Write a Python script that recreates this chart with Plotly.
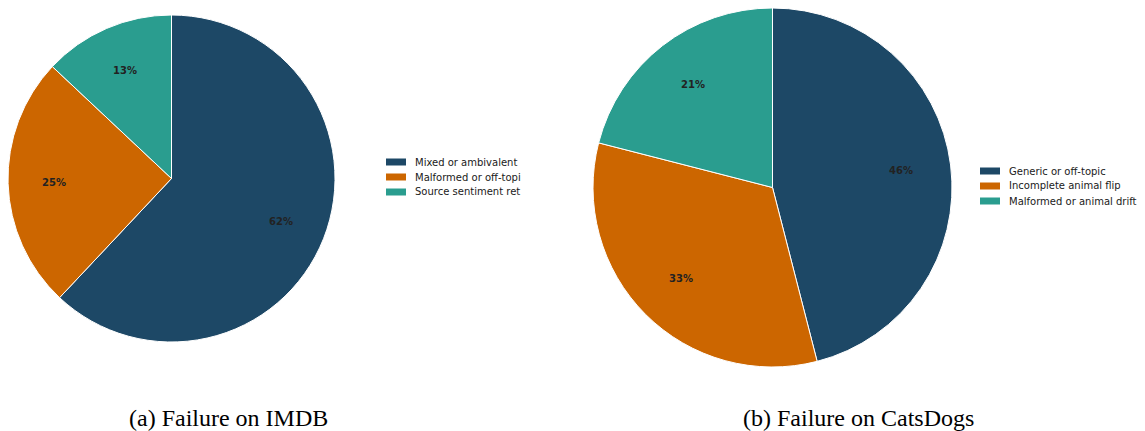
import math
import plotly.graph_objects as go

# the page body has an 8px margin, so the figure is placed at (8, 8)
OFF = 8
W, H = 1145 - OFF, 431 - OFF

imdb_labels = ["Mixed or ambivalent", "Malformed or off-topi", "Source sentiment ret"]
imdb_values = [62, 25, 13]
cats_labels = ["Generic or off-topic", "Incomplete animal flip", "Malformed or animal drift"]
cats_values = [46, 33, 21]
colors = ["#1d4866", "#cc6600", "#2a9d8f"]
captions = ["(a) Failure on IMDB", "(b) Failure on CatsDogs"]

# layout (screen pixel) geometry of each panel: pie centre, radius, legend origin, caption centre
panels = [
    dict(labels=imdb_labels, values=imdb_values, cx=171.5, cy=178.5, r=163.5,
         lx=386, ly=162, capx=228),
    dict(labels=cats_labels, values=cats_values, cx=772.5, cy=187, r=180,
         lx=980, ly=171, capx=858),
]

fig = go.Figure()
shapes = []
annotations = []

def px(x):
    return min(1.0, max(0.0, (x - OFF) / W))

def py(y):
    return min(1.0, max(0.0, 1 - (y - OFF) / H))

for i, p in enumerate(panels):
    cx, cy, r = p["cx"], p["cy"], p["r"]
    fig.add_trace(go.Pie(
        labels=p["labels"], values=p["values"],
        sort=False, direction="clockwise", rotation=0,
        marker=dict(colors=colors, line=dict(color="white", width=1)),
        textinfo="none", hoverinfo="label+percent", showlegend=False,
        domain=dict(x=[px(cx - r), px(cx + r)], y=[py(cy + r), py(cy - r)]),
    ))
    total = sum(p["values"])
    cum = 0.0
    for lab, v in zip(p["labels"], p["values"]):
        mid = 90 - 360 * (cum + v / 2) / total
        cum += v
        rr = 0.72 * r
        x = cx + rr * math.cos(math.radians(mid))
        y = cy - rr * math.sin(math.radians(mid))
        annotations.append(dict(
            x=px(x), y=py(y), xref="paper", yref="paper", showarrow=False,
            text="<b>%d%%</b>" % round(100 * v / total),
            font=dict(family="DejaVu Sans", size=10, color="#222222"),
            xanchor="center", yanchor="middle"))
    # legend
    for k, lab in enumerate(p["labels"]):
        yy = p["ly"] + 15 * k
        shapes.append(dict(type="rect", xref="paper", yref="paper",
                           x0=px(p["lx"]), x1=px(p["lx"] + 20),
                           y0=py(yy + 3.5), y1=py(yy - 3.5),
                           fillcolor=colors[k], line=dict(width=0)))
        annotations.append(dict(
            x=px(p["lx"] + 27), y=py(yy), xref="paper", yref="paper",
            showarrow=False, text=lab, xanchor="left", yanchor="middle",
            font=dict(family="DejaVu Sans", size=10, color="#1a1a1a")))
    annotations.append(dict(
        x=px(p["capx"]), y=py(418), xref="paper", yref="paper", showarrow=False,
        text=captions[i], xanchor="center", yanchor="middle",
        font=dict(family="Liberation Serif", size=24, color="black")))

fig.update_layout(
    width=W, height=H, margin=dict(l=0, r=0, t=0, b=0),
    paper_bgcolor="white", plot_bgcolor="white",
    shapes=shapes, annotations=annotations, showlegend=False,
)
fig.write_html("out.html")
